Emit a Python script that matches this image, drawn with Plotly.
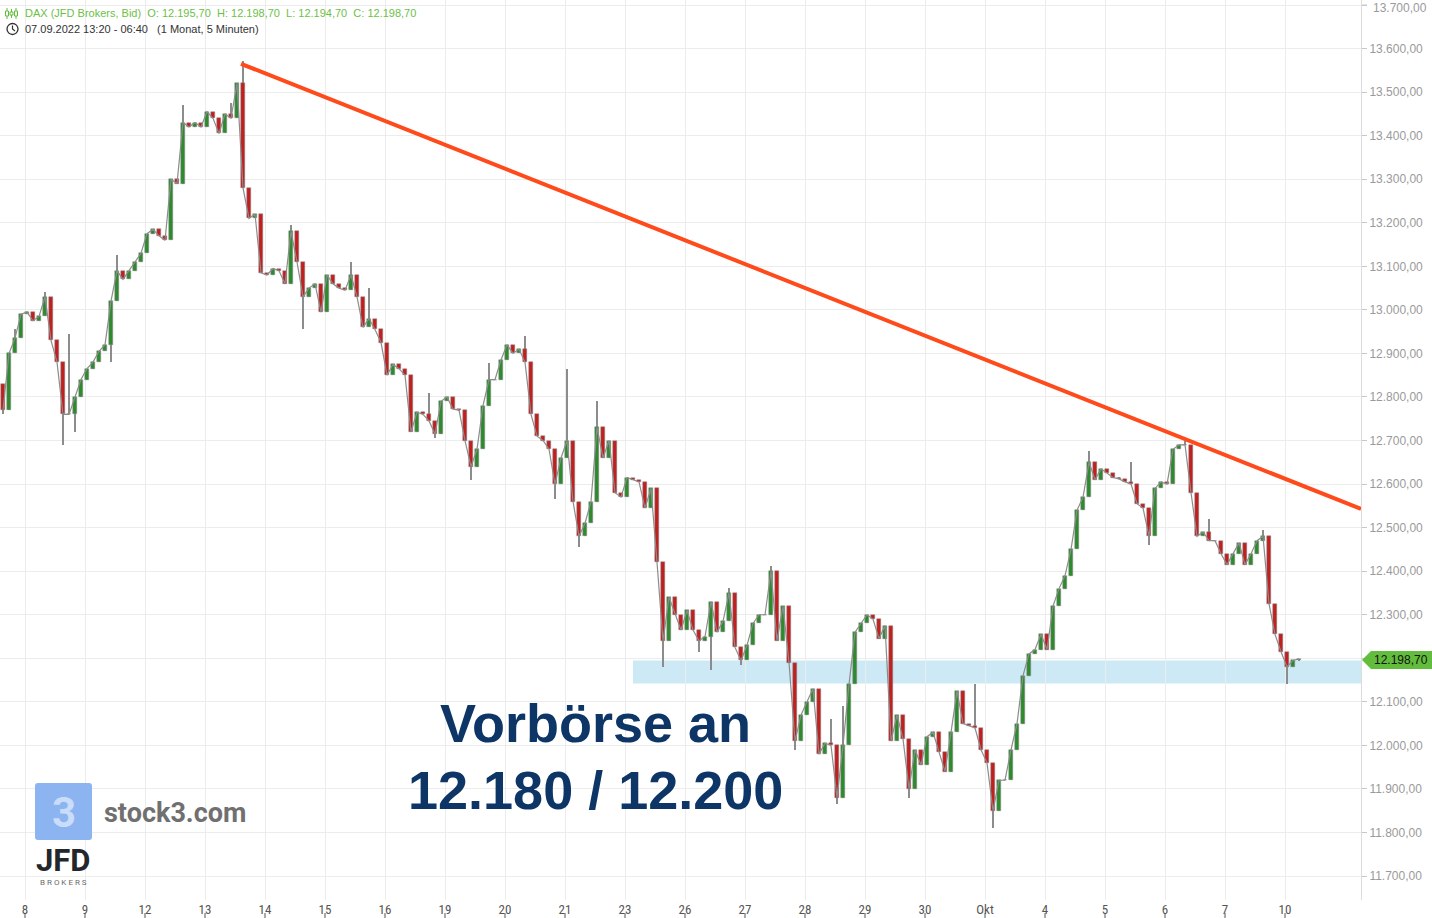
import plotly.graph_objects as go

# ---------------- data ----------------
day_labels = ["8", "9", "12", "13", "14", "15", "16", "19", "20", "21", "23",
              "26", "27", "28", "29", "30", "Okt", "4", "5", "6", "7", "10"]

first_open = 12830
closes = [
    12770, 12900, 12935, 12990, 12995, 12975, 12985, 13030, 12930, 12880,
    12760, 12760, 12800, 12840, 12865, 12880, 12905, 12920, 13020, 13090,
    13070, 13090, 13110, 13130, 13175, 13185, 13170, 13160, 13300, 13290,
    13430, 13420, 13430, 13420, 13455, 13440, 13405, 13450, 13440, 13520,
    13280, 13210, 13220, 13085, 13080, 13095, 13090, 13060, 13180, 13110,
    13030, 13050, 13060, 12995, 13080, 13060, 13050, 13045, 13080, 13030,
    12960, 12980, 12955, 12925, 12850, 12875, 12865, 12850, 12720, 12765,
    12760, 12745, 12715, 12790, 12800, 12772, 12770, 12700, 12640, 12680,
    12780, 12840, 12840, 12885, 12920, 12900, 12910, 12880, 12760, 12710,
    12700, 12680, 12600, 12660, 12700, 12560, 12480, 12510, 12560, 12730,
    12660, 12700, 12580, 12570, 12615, 12610, 12605, 12545, 12590, 12420,
    12240, 12340, 12300, 12265, 12310, 12265, 12240, 12250, 12330, 12260,
    12285, 12350, 12225, 12195, 12230, 12280, 12300, 12300, 12400, 12240,
    12320, 12190, 12010, 12070, 12100, 12130, 11980, 12005, 12000, 11880,
    12000, 12140, 12260, 12280, 12300, 12290, 12245, 12275, 12010, 12070,
    12015, 11900, 11990, 11955, 12020, 12030, 11985, 11940, 12030, 12125,
    12050, 12045, 12040, 11990, 11960, 11850, 11920, 11920, 11990, 12050,
    12160, 12210, 12220, 12255, 12220, 12320, 12360, 12390, 12450, 12540,
    12570, 12650, 12610, 12635, 12625, 12615, 12612, 12605, 12600, 12555,
    12545, 12480, 12590, 12605, 12600, 12680, 12690, 12690, 12580, 12480,
    12490, 12470, 12470, 12440, 12415, 12440, 12465, 12415, 12440, 12470,
    12480, 12325, 12255, 12215, 12180, 12195, 12198.7,
]

spike_highs = {2: 12955, 7: 13040, 11: 12945, 18: 13020, 19: 13125, 30: 13470,
               38: 13475, 40: 13572, 48: 13195, 58: 13110, 61: 13050, 71: 12810,
               81: 12878, 87: 12940, 94: 12865, 99: 12790, 121: 12362, 128: 12412,
               138: 12060, 140: 12090, 162: 12140, 181: 12675, 188: 12651,
               197: 12700, 201: 12520, 210: 12495}
spike_lows = {0: 12760, 10: 12690, 12: 12720, 18: 12880, 50: 12955, 72: 12705,
              78: 12610, 92: 12566, 96: 12455, 110: 12180, 116: 12215, 118: 12172,
              123: 12185, 132: 11990, 139: 11865, 151: 11880, 165: 11810,
              170: 12110, 191: 12460, 214: 12140}

y_ticks = list(range(11700, 13701, 100))
last_price = 12198.70
trend_start = (39.67, 13565)
trend_end = (226.33, 12543)
zone_low, zone_high = 12142, 12195
zone_start_bar = 105

# ---------------- build candles ----------------
opens = [first_open] + closes[:-1]
highs = [max(o, c, spike_highs.get(i, c)) for i, (o, c) in enumerate(zip(opens, closes))]
lows = [min(o, c, spike_lows.get(i, c)) for i, (o, c) in enumerate(zip(opens, closes))]
xs = list(range(len(closes)))
body_base = [min(o, c) for o, c in zip(opens, closes)]
body_len = [abs(c - o) for o, c in zip(opens, closes)]
body_col = ["#2f8a2f" if c >= o else "#bf2020" for o, c in zip(opens, closes)]
wick_len = [h - l for h, l in zip(highs, lows)]

W, H = 1432, 918
ML, MR, MT, MB = 0, 71, 0, 18
PW, PH = W - ML - MR, H - MT - MB


def px(x):
    return x / PW


def py(y):
    return 1 - y / PH


def de(v, dec=2):
    s = f"{v:,.{dec}f}"
    return s.replace(",", "X").replace(".", ",").replace("X", ".")


fig = go.Figure()
# thin connecting stroke (gray fringe of the dense 5-min candles)
fig.add_trace(go.Scatter(x=xs, y=closes, mode="lines",
                         line=dict(color="#8c8c8c", width=1.2),
                         hoverinfo="skip", showlegend=False))
fig.add_trace(go.Bar(x=xs, y=wick_len, base=lows, width=0.22,
                     marker=dict(color="#8c8c8c", line=dict(width=0)),
                     hoverinfo="skip", showlegend=False))
fig.add_trace(go.Bar(x=xs, y=body_len, base=body_base, width=0.55,
                     marker=dict(color=body_col, line=dict(color="#8c8c8c", width=0.5)),
                     hoverinfo="skip", showlegend=False))

x_min, x_max = -0.5, 226.33
day_ticks = [3.667 + 10 * j for j in range(len(day_labels))]

fig.update_layout(
    width=W, height=H,
    margin=dict(l=ML, r=MR, t=MT, b=MB),
    paper_bgcolor="white", plot_bgcolor="white",
    separators=",.",
    showlegend=False,
    barmode="overlay",
    bargap=0,
    xaxis=dict(range=[x_min, x_max], tickmode="array", tickvals=day_ticks,
               ticktext=day_labels, showgrid=True, gridcolor="#ececec", gridwidth=1,
               zeroline=False, ticks="",
               tickfont=dict(size=13, color="#555555",
                             family="Liberation Sans Narrow, Roboto Condensed, Liberation Sans, sans-serif"),
               showline=False),
    yaxis=dict(side="right", range=[11645, 13711.5], tickmode="array",
               tickvals=y_ticks,
               ticktext=["" if v in (12200, 13700) else de(v) for v in y_ticks],
               showgrid=True, gridcolor="#ececec", gridwidth=1, zeroline=False,
               ticks="outside", ticklen=5, tickcolor="#c8c8c8",
               tickfont=dict(size=12, color="#9a9a9a", family="Liberation Sans, Arial, sans-serif"),
               showline=True, linecolor="#dcdcdc", linewidth=1),
)

shapes = []
# support zone
shapes.append(dict(type="rect", xref="x", yref="y", x0=zone_start_bar, x1=x_max,
                   y0=zone_low, y1=zone_high, fillcolor="#cde9f5",
                   line=dict(width=0), layer="below"))
# trend line
shapes.append(dict(type="line", xref="x", yref="y", x0=trend_start[0], y0=trend_start[1],
                   x1=trend_end[0], y1=trend_end[1],
                   line=dict(color="#ff4a1c", width=4), layer="above"))
# x tick marks below labels
for t in day_ticks:
    shapes.append(dict(type="line", xref="x", yref="paper", x0=t, x1=t,
                       y0=py(913), y1=py(918), line=dict(color="#555555", width=1)))
# top tick mark for 13.700
shapes.append(dict(type="line", xref="paper", yref="y", x0=px(1362), x1=px(1367),
                   y0=13700, y1=13700, line=dict(color="#c8c8c8", width=1)))
# price marker on the right axis
yc = py(660)
shapes.append(dict(type="path", xref="paper", yref="paper",
                   path=(f"M {px(1362)},{yc} L {px(1371)},{py(651)} L {px(1432)},{py(651)} "
                         f"L {px(1432)},{py(669)} L {px(1371)},{py(669)} Z"),
                   fillcolor="#63bd3c", line=dict(width=0), layer="above"))
# legend icon (candles)
for cx, top, bot in [(7, 8, 19), (11.5, 9, 18), (16, 8, 19)]:
    shapes.append(dict(type="line", xref="paper", yref="paper", x0=px(cx), x1=px(cx),
                       y0=py(top), y1=py(bot), line=dict(color="#63bd3c", width=1)))
    shapes.append(dict(type="rect", xref="paper", yref="paper", x0=px(cx - 1.5), x1=px(cx + 1.5),
                       y0=py(top + 3), y1=py(bot - 3), line=dict(color="#63bd3c", width=1),
                       fillcolor="white"))
# clock icon
shapes.append(dict(type="circle", xref="paper", yref="paper", x0=px(7), x1=px(18),
                   y0=py(34.5), y1=py(23.5), line=dict(color="#333333", width=1.3)))
shapes.append(dict(type="path", xref="paper", yref="paper",
                   path=f"M {px(12.5)},{py(25.5)} L {px(12.5)},{py(29)} L {px(15)},{py(31)}",
                   line=dict(color="#333333", width=1.2)))
# stock3 logo square
shapes.append(dict(type="path", xref="paper", yref="paper",
                   path=(f"M {px(38)},{py(783)} L {px(89)},{py(783)} Q {px(92)},{py(783)} {px(92)},{py(786)} "
                         f"L {px(92)},{py(837)} Q {px(92)},{py(840)} {px(89)},{py(840)} "
                         f"L {px(38)},{py(840)} Q {px(35)},{py(840)} {px(35)},{py(837)} "
                         f"L {px(35)},{py(786)} Q {px(35)},{py(783)} {px(38)},{py(783)} Z"),
                   fillcolor="#8cb4f0", line=dict(width=0), layer="above"))
fig.update_layout(shapes=shapes)

ann = []
ann.append(dict(xref="paper", yref="paper", x=px(23), y=py(13), xanchor="left", yanchor="middle",
                showarrow=False,
                text="DAX (JFD Brokers, Bid)  O: 12.195,70  H: 12.198,70  L: 12.194,70  C: 12.198,70",
                font=dict(size=11, color="#6cbf45", family="Liberation Sans, Arial, sans-serif")))
ann.append(dict(xref="paper", yref="paper", x=px(23), y=py(29), xanchor="left", yanchor="middle",
                showarrow=False,
                text="07.09.2022 13:20 - 06:40   (1 Monat, 5 Minuten)",
                font=dict(size=11, color="#333333", family="Liberation Sans, Arial, sans-serif")))
ann.append(dict(xref="paper", yref="paper", x=px(1371), y=1.0, xanchor="left", yanchor="top",
                showarrow=False, text=de(13700), yshift=1,
                font=dict(size=12, color="#9a9a9a", family="Liberation Sans, Arial, sans-serif")))
ann.append(dict(xref="paper", yref="paper", x=px(1401), y=py(660), xanchor="center", yanchor="middle",
                showarrow=False, text=de(last_price),
                font=dict(size=12, color="#111111", family="Liberation Sans, Arial, sans-serif")))
ann.append(dict(xref="paper", yref="paper", x=px(595), y=py(723), xanchor="center", yanchor="middle",
                showarrow=False, text="<b>Vorbörse an</b>",
                font=dict(size=54, color="#0d3566", family="Liberation Sans, Arial, sans-serif")))
ann.append(dict(xref="paper", yref="paper", x=px(595), y=py(790), xanchor="center", yanchor="middle",
                showarrow=False, text="<b>12.180 / 12.200</b>",
                font=dict(size=54, color="#0d3566", family="Liberation Sans, Arial, sans-serif")))
ann.append(dict(xref="paper", yref="paper", x=px(63.5), y=py(812), xanchor="center", yanchor="middle",
                showarrow=False, text="<b>3</b>",
                font=dict(size=42, color="#c9dcf9", family="Roboto, Liberation Sans, sans-serif")))
ann.append(dict(xref="paper", yref="paper", x=px(102), y=py(813), xanchor="left", yanchor="middle",
                showarrow=False, text="<b>stock3.com</b>",
                font=dict(size=27, color="#707070", family="Roboto, Liberation Sans, sans-serif")))
ann.append(dict(xref="paper", yref="paper", x=px(63), y=py(860), xanchor="center", yanchor="middle",
                showarrow=False, text="<b>JFD</b>",
                font=dict(size=31, color="#23262b", family="Roboto, Liberation Sans, sans-serif")))
ann.append(dict(xref="paper", yref="paper", x=px(63), y=py(882), xanchor="center", yanchor="middle",
                showarrow=False, text="B R O K E R S",
                font=dict(size=8, color="#6a6a6a", family="Roboto, Liberation Sans, sans-serif")))
fig.update_layout(annotations=ann)

fig.write_html("out.html", config={"displayModeBar": False},
               post_script="document.body.style.margin='0';document.body.style.overflow='hidden';")
